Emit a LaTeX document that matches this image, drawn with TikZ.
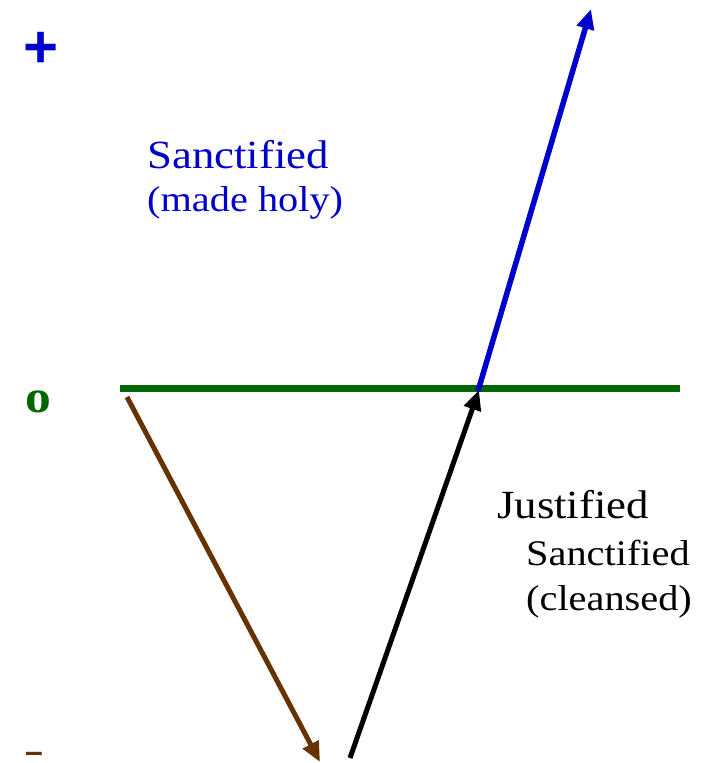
\documentclass[tikz,border=0pt]{standalone}
\usepackage{fontspec}
\setmainfont{Liberation Serif}[FakeStretch=1.12]
\newfontfamily\plusfont{Liberation Sans}
\usetikzlibrary{arrows.meta}
\definecolor{cblue}{RGB}{0,0,204}
\definecolor{cgreen}{RGB}{0,102,0}
\definecolor{cbrown}{RGB}{102,51,0}
\tikzset{
  lbl/.style={inner sep=0pt, anchor=base west},
  arr/.style={line width=5pt, -{Triangle[length=20pt,width=17pt]}},
}
\begin{document}
\begin{tikzpicture}[x=1pt,y=-1pt]
\useasboundingbox (0,0) rectangle (712,763);
% axis labels
\node[lbl, text=cblue, font=\plusfont\bfseries\fontsize{60}{60}\selectfont] (plus) at (23,67) {+};
\node[lbl, text=cgreen, font=\bfseries\fontsize{46}{46}\selectfont] (zero) at (25,412) {o};
\node[lbl, text=cbrown, font=\plusfont\bfseries\fontsize{32}{32}\selectfont] (minus) at (25,762.5) {–};
% zero line
\coordinate (g1) at (120,388);
\coordinate (g2) at (680,388);
\draw[cgreen, line width=7pt] (g1) -- (g2);
% arrows
\coordinate (b1) at (127,397);
\coordinate (b2) at (320,762);
\coordinate (k1) at (350,758);
\coordinate (k2) at (479,390);
\coordinate (u1) at (478,391);
\coordinate (u2) at (591,9);
\draw[arr, cbrown] (b1) -- (b2);
\draw[arr, black] (k1) -- (k2);
\draw[arr, cblue, line width=5.5pt] (u1) -- (u2);
% texts
\node[lbl, text=cblue, font=\fontsize{40}{40}\selectfont] (s1) at (147,168) {Sanctified};
\node[lbl, text=cblue, font=\fontsize{36}{36}\selectfont] (s2) at (147,211) {(made holy)};
\node[lbl, text=black, font=\fontsize{40}{40}\selectfont] (j1) at (497,518) {Justified};
\node[lbl, text=black, font=\fontsize{36}{36}\selectfont] (j2) at (526,565) {Sanctified};
\node[lbl, text=black, font=\fontsize{36}{36}\selectfont] (j3) at (526,610) {(cleansed)};
\end{tikzpicture}
\end{document}
